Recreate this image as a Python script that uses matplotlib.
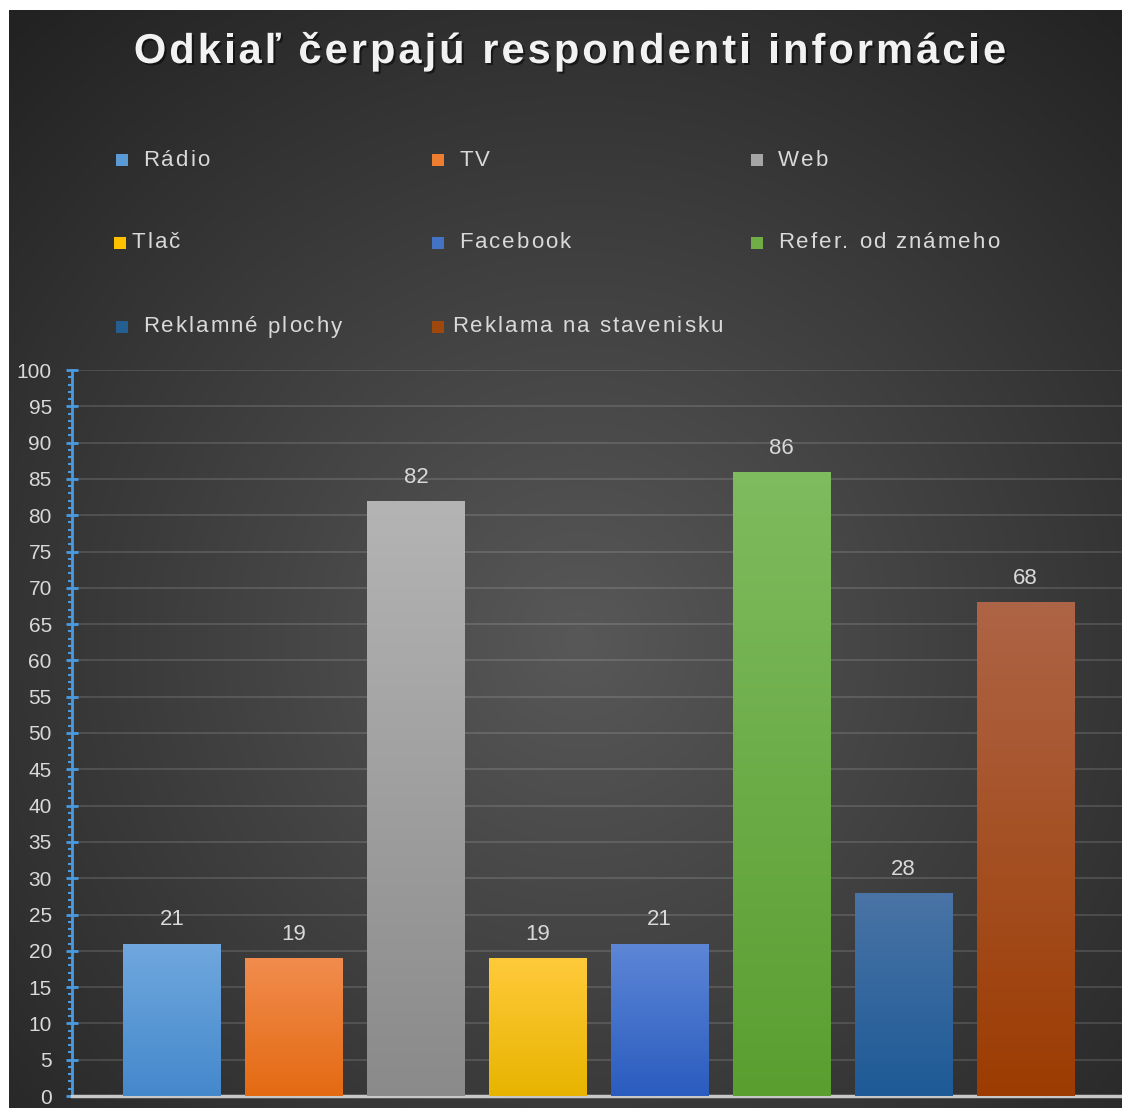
import numpy as np
import matplotlib
matplotlib.use('Agg')
import matplotlib.pyplot as plt
from matplotlib.patches import Rectangle
from matplotlib.colors import to_rgb
from matplotlib.font_manager import FontProperties
import matplotlib.patheffects as pe

plt.rcParams['font.family'] = ['Liberation Sans', 'DejaVu Sans']

# data
categories = ['Rádio', 'TV', 'Web', 'Tlač', 'Facebook', 'Refer. od známeho',
              'Reklamné plochy', 'Reklama na stavenisku']
values = [21, 19, 82, 19, 21, 86, 28, 68]
legend_colors = ['#5b9bd5', '#ed7d31', '#a5a5a5', '#ffc000', '#4472c4',
                 '#70ad47', '#255e91', '#9e480e']
top_colors = ['#70a8de', '#f18c4e', '#b4b4b4', '#ffca3a', '#5d86d6',
              '#7fbb5f', '#4a74a6', '#ae6446']
bottom_colors = ['#4488cc', '#e46a12', '#8a8a8a', '#e8b400', '#2a5cbf',
                 '#5a9e30', '#1d5a96', '#9c3c02']
y_ticks = list(range(0, 101, 5))
title = 'Odkiaľ čerpajú respondenti informácie'

W, H = 1122, 1108
fig = plt.figure(figsize=(W / 100, H / 100), dpi=100)
fig.patch.set_facecolor('white')
renderer = fig.canvas.get_renderer()


def char_width(c, prop):
    w1, _, _ = renderer.get_text_width_height_descent('|' + c + '|', prop, ismath=False)
    w0, _, _ = renderer.get_text_width_height_descent('||', prop, ismath=False)
    return w1 - w0


def spaced_text(x_px, y_px, s, spacing, ha='left', size=15, weight='normal', **kw):
    # matplotlib has no letter spacing, so put the letters one by one
    prop = FontProperties(family=['Liberation Sans', 'DejaVu Sans'], size=size, weight=weight)
    widths = [char_width(c, prop) for c in s]
    total = sum(widths) + spacing * (len(s) - 1)
    if ha == 'center':
        x0 = x_px - total / 2
    elif ha == 'right':
        x0 = x_px - total
    else:
        x0 = x_px
    for c, w in zip(s, widths):
        if c != ' ':
            fig.text(x0 / W, 1 - y_px / H, c, ha='left', va='center', fontproperties=prop, **kw)
        x0 += w + spacing


# background with radial gradient
bg = fig.add_axes([0, 0, 1, 1], zorder=-1)
bg.set_xlim(0, W)
bg.set_ylim(H, 0)
bg.axis('off')
yy, xx = np.mgrid[10:H:2, 9:W:2]
r = np.sqrt(((xx - 580) / 560.0) ** 2 + ((yy - 640) / 560.0) ** 2)
v = (88 - 54 * np.clip(r / 1.5, 0, 1)) / 255.0
img = np.dstack([v, v, v])
bg.imshow(img, extent=(9, W, H, 10), aspect='auto', interpolation='bilinear')

# title
spaced_text(570, 52, title, 3.0, ha='center', size=30, weight='bold', color='#f2f2f2',
            path_effects=[pe.withSimplePatchShadow(offset=(1.5, -1.5), shadow_rgbFace='black', alpha=0.5)])

# legend drawn by hand
leg_cols_x = [122, 438, 757]
leg_rows_y = [160, 243, 327]
for i, name in enumerate(categories):
    cx = leg_cols_x[i % 3]
    cy = leg_rows_y[i // 3]
    tx = cx + 21
    if name == 'Tlač':
        cx -= 2
        tx = cx + 12
    if name == 'Reklama na stavenisku':
        tx = cx + 14
    fig.patches.append(Rectangle(((cx - 6) / W, 1 - (cy + 6) / H), 12 / W, 12 / H,
                                 transform=fig.transFigure, facecolor=legend_colors[i],
                                 edgecolor='none'))
    spaced_text(tx, cy, name, 2.0, size=16, color='#d9d9d9')

# main axes
ax_left, ax_right, ax_bottom, ax_top = 72, W, 1096, 370
ax = fig.add_axes([ax_left / W, 1 - ax_bottom / H, (ax_right - ax_left) / W,
                   (ax_bottom - ax_top) / H])
ax.set_facecolor('none')
x = np.arange(len(categories))

bar_w = 0.8
bars = ax.bar(x, values, width=bar_w, color='none', edgecolor='none', zorder=3)
for i, b in enumerate(bars):
    c1 = np.array(to_rgb(top_colors[i]))
    c2 = np.array(to_rgb(bottom_colors[i]))
    t = np.linspace(0, 1, 256)[:, None]
    grad = (c1 * (1 - t) + c2 * t)[:, None, :]
    im = ax.imshow(grad, extent=(b.get_x(), b.get_x() + b.get_width(), 0, b.get_height()),
                   aspect='auto', zorder=3, interpolation='bilinear')
    im.set_clip_path(b)
    ax.annotate(str(values[i]), (x[i], values[i]), xytext=(0, 17), textcoords='offset points',
                ha='center', va='center', fontsize=16, color='#d9d9d9')
ax.set_xlim(-0.82, 7.79)
ax.set_ylim(0, 100)

# grid and spines
ax.set_yticks(y_ticks)
ax.set_yticks(np.arange(0, 101, 1), minor=True)
ax.yaxis.grid(True, which='major', color='white', alpha=0.13, linewidth=1.4, zorder=0)
ax.set_axisbelow(True)
ax.set_xticks([])
for s in ['top', 'right']:
    ax.spines[s].set_visible(False)
ax.spines['left'].set_color('#4a9ae0')
ax.spines['left'].set_linewidth(2)
ax.spines['bottom'].set_color('#c8c8c8')
ax.spines['bottom'].set_linewidth(2.5)
ax.tick_params(axis='y', which='major', direction='inout', length=9, width=2,
               color='#4a9ae0', labelcolor='#d9d9d9', labelsize=15, pad=10)
ax.tick_params(axis='y', which='minor', direction='out', length=3, width=1.5,
               color='#4a9ae0')

plt.savefig('out.png', dpi=100)
plt.close()
